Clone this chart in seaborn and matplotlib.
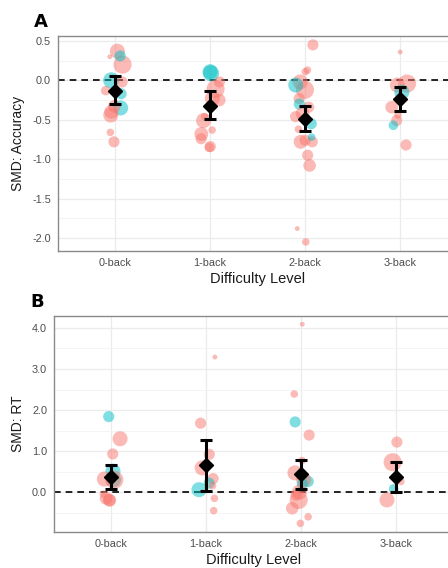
import numpy as np
import pandas as pd
import matplotlib.pyplot as plt
import seaborn as sns
from matplotlib.ticker import MultipleLocator, FormatStrFormatter

levels = ['0-back', '1-back', '2-back', '3-back']
group_names = ['group 1', 'group 2']

# Panel A: SMD accuracy, one entry per study (level, smd, group, weight)
acc_level = ['0-back'] * 14 + ['1-back'] * 13 + ['2-back'] * 21 + ['3-back'] * 9
acc_smd = [0.37, 0.20, 0.31, 0.30, 0.00, -0.02, -0.13, -0.17, -0.35, -0.33, -0.40, -0.44, -0.66, -0.78,
           0.11, 0.09, -0.02, -0.11, -0.23, -0.25, -0.46, -0.51, -0.63, -0.68, -0.74, -0.84, -0.85,
           0.45, 0.13, 0.11, -0.12, -0.02, -0.06, -0.23, -0.34, -0.30, -0.42, -0.46, -0.55, -0.62,
           -0.78, -0.78, -0.76, -0.72, -0.95, -1.08, -1.88, -2.05,
           0.36, -0.04, -0.06, -0.15, -0.34, -0.44, -0.51, -0.57, -0.82]
acc_group = ['group 1', 'group 1', 'group 2', 'group 1', 'group 2', 'group 1', 'group 1', 'group 2', 'group 2',
             'group 1', 'group 1', 'group 1', 'group 1', 'group 1',
             'group 2', 'group 2', 'group 1', 'group 1', 'group 1', 'group 1', 'group 1', 'group 1', 'group 1',
             'group 1', 'group 1', 'group 1', 'group 1',
             'group 1', 'group 1', 'group 1', 'group 1', 'group 1', 'group 2', 'group 1', 'group 1', 'group 2',
             'group 1', 'group 1', 'group 2', 'group 1', 'group 1', 'group 1', 'group 1', 'group 2', 'group 1',
             'group 1', 'group 1', 'group 1',
             'group 1', 'group 1', 'group 1', 'group 2', 'group 1', 'group 1', 'group 1', 'group 2', 'group 1']
acc_weight = [7, 10, 4, 1, 8, 4, 3, 4, 7, 5, 6, 7, 2, 4,
              7, 8, 4, 10, 7, 5, 2, 7, 2, 6, 4, 4, 3,
              4, 2, 2, 10, 7, 7, 4, 4, 4, 6, 4, 4, 2, 6, 4, 4, 2, 4, 5, 1, 2,
              1, 10, 7, 7, 5, 2, 4, 3, 4]
acc_mean = [-0.13, -0.32, -0.49, -0.24]
acc_hi = [0.05, -0.14, -0.33, -0.08]
acc_lo = [-0.30, -0.49, -0.64, -0.39]

# Panel B: SMD reaction time
rt_level = ['0-back'] * 11 + ['1-back'] * 10 + ['2-back'] * 15 + ['3-back'] * 5
rt_smd = [1.84, 1.30, 0.93, 0.51, 0.30, 0.30, 0.32, -0.20, -0.15, -0.19, -0.05,
          3.29, 1.68, 0.92, 0.59, 0.33, 0.22, 0.06, 0.16, -0.15, -0.45,
          4.09, 2.39, 1.71, 1.39, 0.77, 0.47, 0.26, 0.30, 0.20, -0.19, 0.00, -0.07, -0.39, -0.60, -0.76,
          1.22, 0.73, 0.26, -0.19, 0.08]
rt_group = ['group 2', 'group 1', 'group 1', 'group 2', 'group 2', 'group 1', 'group 1', 'group 1', 'group 1',
            'group 1', 'group 1',
            'group 1', 'group 1', 'group 1', 'group 1', 'group 1', 'group 2', 'group 2', 'group 1', 'group 1',
            'group 1',
            'group 1', 'group 1', 'group 2', 'group 1', 'group 1', 'group 1', 'group 2', 'group 1', 'group 2',
            'group 1', 'group 1', 'group 1', 'group 1', 'group 1', 'group 1',
            'group 1', 'group 1', 'group 1', 'group 1', 'group 2']
rt_weight = [4, 7, 4, 7, 7, 10, 7, 5, 5, 5, 2,
             1, 4, 4, 7, 4, 4, 7, 2, 2, 2,
             1, 2, 4, 4, 2, 7, 4, 7, 4, 10, 7, 4, 5, 2, 2,
             4, 10, 2, 7, 3]
rt_mean = [0.37, 0.65, 0.44, 0.37]
rt_hi = [0.66, 1.27, 0.78, 0.73]
rt_lo = [0.08, 0.02, 0.08, 0.00]

palette = {'group 1': '#F8766D', 'group 2': '#00BFC4'}

sns.set_style('whitegrid')
plt.rcParams['font.family'] = ['Liberation Sans', 'DejaVu Sans']
plt.rcParams['axes.unicode_minus'] = False

fig = plt.figure(figsize=(4.48, 5.68), dpi=100)
ax_a = fig.add_axes([58 / 448, 1 - 251 / 568, 399 / 448, 215 / 568])
ax_b = fig.add_axes([54 / 448, 1 - 532 / 568, 399 / 448, 216 / 568])

rng = np.random.default_rng(7)


def panel(ax, level, smd, group, weight, mean, hi, lo, ylim, major, minor, ylabel, letter, lab_x):
    df = pd.DataFrame({'level': level, 'smd': smd, 'group': group, 'weight': weight})
    df['xpos'] = df['level'].map(levels.index) + rng.uniform(-0.1, 0.1, len(df))
    ax.axhline(0, color='black', ls=(0, (4, 3)), lw=1.2, zorder=1.5)
    sns.scatterplot(data=df, x='xpos', y='smd', hue='group', size='weight', sizes=(12, 170),
                    size_norm=(1, 10), palette=palette, alpha=0.5, linewidth=0,
                    legend=False, ax=ax, zorder=2)
    mean = np.array(mean)
    ax.errorbar(range(4), mean, yerr=[mean - np.array(lo), np.array(hi) - mean], fmt='D',
                color='black', ms=7, capsize=4.5, elinewidth=2.2, capthick=2.2, zorder=3)
    ax.set_xlim(-0.6, 3.6)
    ax.set_ylim(*ylim)
    ax.set_xticks(range(4))
    ax.set_xticklabels(levels)
    ax.yaxis.set_major_locator(MultipleLocator(major))
    ax.yaxis.set_minor_locator(MultipleLocator(minor))
    ax.yaxis.set_major_formatter(FormatStrFormatter('%.1f'))
    ax.set_axisbelow(True)
    ax.grid(which='major', color='#EBEBEB', lw=0.9)
    ax.grid(which='minor', axis='y', color='#F3F3F3', lw=0.6)
    ax.tick_params(axis='both', which='major', length=3, width=0.8, color='#888888',
                   labelcolor='#4D4D4D', labelsize=7.8, pad=2)
    ax.tick_params(axis='y', which='minor', length=0)
    for sp in ax.spines.values():
        sp.set_color('#8A8A8A')
        sp.set_linewidth(1.0)
    ax.set_xlabel('Difficulty Level', fontsize=10.5, color='#1A1A1A')
    ax.set_ylabel(ylabel, fontsize=10, color='#1A1A1A')
    ax.xaxis.set_label_coords(0.5, -0.098)
    ax.yaxis.set_label_coords(lab_x, 0.5)
    ax.text(-17 / 399, 1.065, letter, transform=ax.transAxes, fontsize=13, color='black',
            fontweight='heavy', ha='center', va='center', family='DejaVu Sans')


panel(ax_a, acc_level, acc_smd, acc_group, acc_weight, acc_mean, acc_hi, acc_lo,
      (-2.165, 0.563), 0.5, 0.25, 'SMD: Accuracy', 'A', -0.083)
panel(ax_b, rt_level, rt_smd, rt_group, rt_weight, rt_mean, rt_hi, rt_lo,
      (-0.97, 4.29), 1.0, 0.5, 'SMD: RT', 'B', -0.073)

fig.savefig('out.png', dpi=100)
